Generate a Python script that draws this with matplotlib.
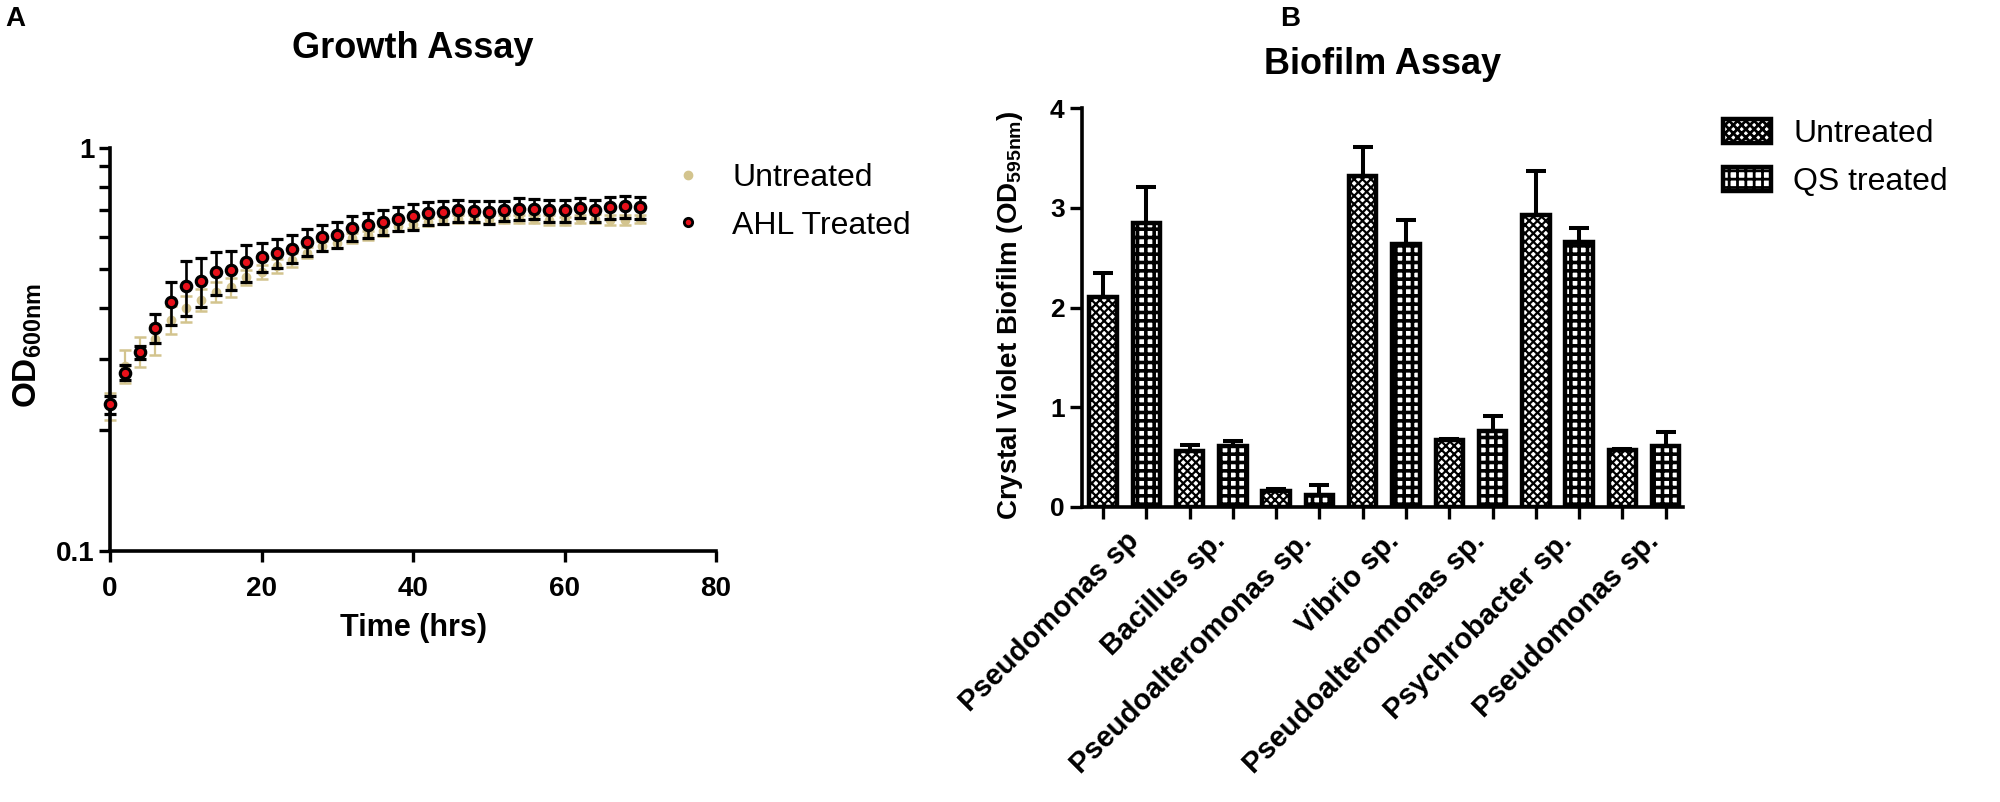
import numpy as np
import matplotlib.pyplot as plt
from matplotlib.lines import Line2D
from matplotlib.patches import Patch
from matplotlib.ticker import FixedLocator, NullFormatter

plt.rcParams['font.family'] = ['Liberation Sans', 'DejaVu Sans']
plt.rcParams['mathtext.fontset'] = 'custom'
plt.rcParams['mathtext.rm'] = 'Liberation Sans'
plt.rcParams['mathtext.bf'] = 'Liberation Sans:bold'
plt.rcParams['hatch.linewidth'] = 2.0

# --- Panel A: growth curve (OD600, log scale) ---
time_hrs = [0, 2, 4, 6, 8, 10, 12, 14, 16, 18, 20, 22, 24, 26, 28, 30, 32, 34,
            36, 38, 40, 42, 44, 46, 48, 50, 52, 54, 56, 58, 60, 62, 64, 66, 68, 70]
untreated_od = [0.229, 0.288, 0.313, 0.335, 0.375, 0.400, 0.420, 0.440, 0.452,
                0.478, 0.493, 0.510, 0.528, 0.550, 0.572, 0.582, 0.597, 0.607,
                0.622, 0.641, 0.648, 0.655, 0.664, 0.665, 0.666, 0.667, 0.668,
                0.668, 0.666, 0.662, 0.660, 0.665, 0.668, 0.662, 0.662, 0.665]
untreated_sd = [0.018, 0.027, 0.027, 0.028, 0.030, 0.030, 0.027, 0.025, 0.025,
                0.020, 0.020, 0.020, 0.020, 0.018, 0.017, 0.017, 0.017, 0.017,
                0.017, 0.017, 0.015, 0.015, 0.015, 0.015, 0.015, 0.015, 0.015,
                0.015, 0.015, 0.018, 0.015, 0.015, 0.018, 0.018, 0.018, 0.015]
ahl_od = [0.231, 0.277, 0.311, 0.358, 0.414, 0.454, 0.467, 0.492, 0.499,
          0.521, 0.537, 0.549, 0.563, 0.585, 0.600, 0.609, 0.634, 0.644,
          0.655, 0.667, 0.677, 0.688, 0.694, 0.700, 0.697, 0.692, 0.700,
          0.706, 0.706, 0.700, 0.700, 0.710, 0.700, 0.712, 0.716, 0.712]
ahl_sd = [0.012, 0.012, 0.012, 0.030, 0.050, 0.070, 0.065, 0.060, 0.056,
          0.055, 0.045, 0.045, 0.045, 0.045, 0.045, 0.045, 0.045, 0.045,
          0.045, 0.045, 0.050, 0.045, 0.045, 0.045, 0.040, 0.045, 0.040,
          0.045, 0.040, 0.045, 0.045, 0.040, 0.045, 0.045, 0.045, 0.045]

# --- Panel B: biofilm assay ---
species = ['Pseudomonas sp', 'Bacillus sp.', 'Pseudoalteromonas sp.', 'Vibrio sp.',
           'Pseudoalteromonas sp.', 'Psychrobacter sp.', 'Pseudomonas sp.']
biofilm_untreated = [2.105, 0.565, 0.164, 3.320, 0.675, 2.927, 0.575]
biofilm_untreated_err = [0.245, 0.053, 0.016, 0.290, 0.010, 0.438, 0.010]
biofilm_qs = [2.847, 0.608, 0.120, 2.633, 0.759, 2.657, 0.615]
biofilm_qs_err = [0.363, 0.050, 0.097, 0.247, 0.150, 0.140, 0.135]

TAN = '#d3c48e'
RED = '#e8101a'
W, H = 2000, 802

fig = plt.figure(figsize=(20, 8.02), dpi=100)


def px_axes(x0, y0, x1, y1):
    return fig.add_axes([x0 / W, 1 - y1 / H, (x1 - x0) / W, (y1 - y0) / H])


def style_spines(ax, lw):
    for s in ('top', 'right'):
        ax.spines[s].set_visible(False)
    for s in ('left', 'bottom'):
        ax.spines[s].set_linewidth(lw)


# ---------------- Panel A ----------------
ax1 = px_axes(110, 148, 716, 551)
ax1.errorbar(time_hrs, untreated_od, yerr=untreated_sd, fmt='o', color=TAN,
             ms=6, elinewidth=1.6, capsize=4, capthick=1.8, zorder=2, clip_on=False)
ax1.errorbar(time_hrs, ahl_od, yerr=ahl_sd, fmt='o', mfc=RED, mec='black', mew=2.3,
             ms=7.5, ecolor='black', elinewidth=1.9, capsize=4.3, capthick=1.9,
             zorder=3, clip_on=False)
ax1.set_yscale('log')
ax1.set_ylim(0.1, 1)
ax1.set_xlim(0, 80)
ax1.yaxis.set_major_locator(FixedLocator([0.1, 1]))
ax1.set_yticklabels(['0.1', '1'])
ax1.yaxis.set_minor_locator(FixedLocator([0.2, 0.3, 0.4, 0.5, 0.6, 0.7, 0.8, 0.9]))
ax1.yaxis.set_minor_formatter(NullFormatter())
ax1.set_xticks([0, 20, 40, 60, 80])
style_spines(ax1, 2.6)
ax1.tick_params(axis='both', which='both', direction='out', length=8, width=2.4,
                labelsize=20, pad=3)
ax1.tick_params(axis='x', pad=10)
for lab in ax1.get_xticklabels() + ax1.get_yticklabels():
    lab.set_fontweight('bold')
ax1.set_xlabel('Time (hrs)', fontsize=22, fontweight='bold', labelpad=8)
fig.text(28 / W, 1 - 345 / H, r'$\mathbf{OD_{600nm}}$', rotation=90,
         ha='center', va='center', fontsize=24)

ax1.legend(
    handles=[Line2D([], [], ls='none', marker='o', color=TAN, ms=6),
             Line2D([], [], ls='none', marker='o', mfc=RED, mec='black', mew=2, ms=6)],
    labels=['Untreated', 'AHL Treated'], loc='upper left',
    bbox_to_anchor=(675 / W, 1 - 163 / H), bbox_transform=fig.transFigure,
    frameon=False, fontsize=23, handlelength=0.8, handletextpad=1.0,
    borderpad=0, borderaxespad=0, labelspacing=0.55, numpoints=1)

fig.text(413 / W, 1 - 48 / H, 'Growth Assay', ha='center', va='center',
         fontsize=26, fontweight='bold')
fig.text(5 / W, 1 - 6 / H, 'A', ha='left', va='top', fontsize=20, fontweight='bold')

# ---------------- Panel B ----------------
ax2 = px_axes(1082, 108, 1683, 507)
n = len(species)
pos_u = np.arange(n) * 2
pos_q = pos_u + 1
bar_w = 0.635

ax2.errorbar(pos_u, biofilm_untreated, yerr=[np.zeros(n), biofilm_untreated_err],
             fmt='none', ecolor='black', elinewidth=2.9, capsize=7.2, capthick=2.9, zorder=1)
ax2.errorbar(pos_q, biofilm_qs, yerr=[np.zeros(n), biofilm_qs_err],
             fmt='none', ecolor='black', elinewidth=2.9, capsize=7.2, capthick=2.9, zorder=1)
bars_u = ax2.bar(pos_u, biofilm_untreated, width=bar_w, color='white', edgecolor='black',
                 linewidth=3.2, hatch='xxxx', zorder=2)
bars_q = ax2.bar(pos_q, biofilm_qs, width=bar_w, color='white', edgecolor='black',
                 linewidth=3.2, hatch='++', zorder=2)
for bars, hlw in ((bars_u, 1.6), (bars_q, 2.6)):
    for p in bars:
        if hasattr(p, 'set_hatch_linewidth'):
            p.set_hatch_linewidth(hlw)

ax2.set_ylim(0, 4)
ax2.set_xlim(-0.485, 13.4)
ax2.set_yticks([0, 1, 2, 3, 4])
ax2.set_xticks(np.arange(2 * n))
ax2.set_xticklabels([''] * (2 * n))
ax2.set_xticks(pos_u + 0.5, minor=True)
ax2.set_xticklabels(species, minor=True, rotation=45, ha='right',
                    rotation_mode='anchor', fontsize=21, fontweight='bold')
style_spines(ax2, 2.6)
ax2.tick_params(axis='both', which='major', direction='out', length=8.5, width=2.4,
                labelsize=19, pad=4)
ax2.tick_params(axis='x', which='minor', length=0, pad=14)
for lab in ax2.get_yticklabels():
    lab.set_fontweight('bold')
ax2.set_ylabel(r'Crystal Violet Biofilm (OD$_{\mathbf{595nm}}$)', fontsize=20,
               fontweight='bold')
ax2.yaxis.set_label_coords(-0.095, 0.48)

patch_u = Patch(facecolor='white', edgecolor='black', linewidth=3.2, hatch='xxxx')
patch_q = Patch(facecolor='white', edgecolor='black', linewidth=3.2, hatch='++')
ax2.legend(handles=[patch_u, patch_q], labels=['Untreated', 'QS treated'],
           loc='upper left', bbox_to_anchor=(1723 / W, 1 - 119 / H),
           bbox_transform=fig.transFigure, frameon=False, fontsize=23,
           handlelength=1.5, handleheight=0.78, handletextpad=0.7,
           borderpad=0, borderaxespad=0, labelspacing=0.55)

fig.text(1383 / W, 1 - 64 / H, 'Biofilm Assay', ha='center', va='center',
         fontsize=26, fontweight='bold')
fig.text(1280 / W, 1 - 6 / H, 'B', ha='left', va='top', fontsize=20, fontweight='bold')

fig.savefig('out.png', dpi=100)
